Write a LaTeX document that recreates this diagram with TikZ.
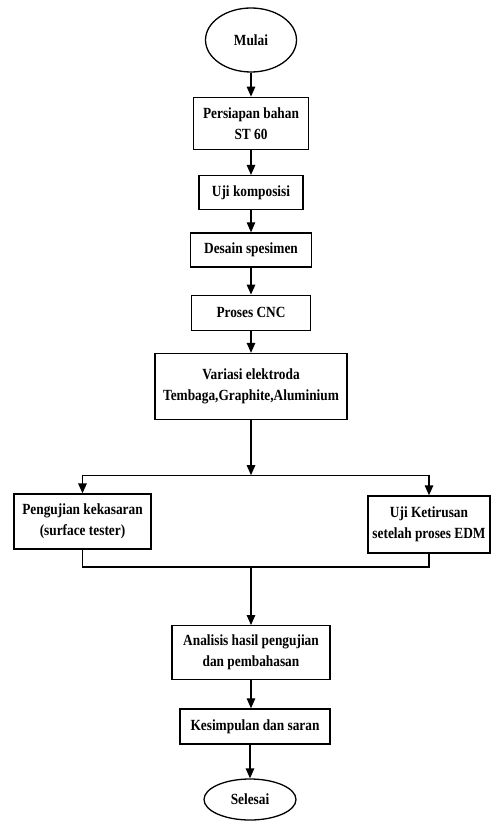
\documentclass[tikz,border=0pt]{standalone}
\usepackage{fontspec}
\setmainfont{Liberation Serif}[FakeStretch=0.86]
\usetikzlibrary{shapes.geometric, arrows.meta, positioning, calc}

\begin{document}
\begin{tikzpicture}[
    stepbox/.style={rectangle, draw=black, line width=1.3pt, align=center, inner sep=2pt, font=\bfseries\fontsize{15.5}{21}\selectfont},
    terminal/.style={ellipse, draw=black, line width=1.3pt, inner sep=0pt, font=\bfseries\fontsize{15.5}{21}\selectfont},
    arr/.style={line width=1.3pt, -{Triangle[length=10pt,width=8.5pt]}},
    link/.style={line width=1.3pt}
  ]
    \useasboundingbox (0,0) rectangle (491pt,-821pt);

    % --- Main column ---
    \node[terminal, minimum width=91pt, minimum height=64pt] (mulai) at (251pt,-40pt) {Mulai};
    \node[stepbox, minimum width=115pt, minimum height=52pt, below=24pt of mulai] (bahan) {Persiapan bahan\\ST 60};
    \node[stepbox, minimum width=104pt, minimum height=34pt, below=25pt of bahan] (komposisi) {Uji komposisi};
    \node[stepbox, minimum width=121pt, minimum height=34pt, below=22pt of komposisi] (desain) {Desain spesimen};
    \node[stepbox, minimum width=119pt, minimum height=35pt, below=27pt of desain] (cnc) {Proses CNC};
    \node[stepbox, minimum width=192pt, minimum height=66pt, below=22pt of cnc] (variasi) {Variasi elektroda\\Tembaga,Graphite,Aluminium};
    \coordinate[below=55pt of variasi.south] (split);

    % --- Branches ---
    \node[stepbox, minimum width=137pt, minimum height=55pt] (kasar) at (82.5pt,-521.5pt) {Pengujian kekasaran\\(surface tester)};
    \node[stepbox, minimum width=122pt, minimum height=57pt, inner sep=0pt] (tirus) at (429pt,-524.5pt) {Uji Ketirusan\\setelah proses EDM};
    \coordinate (join) at (251pt,-567pt);

    % --- Closing ---
    \node[stepbox, minimum width=158pt, minimum height=54pt, below=58pt of join] (analisis) {Analisis hasil pengujian\\dan pembahasan};
    \node[stepbox, minimum width=150pt, minimum height=35pt, below left=28pt and 0pt of analisis.south east] (kesimpulan) {Kesimpulan dan saran};
    \node[terminal, minimum width=92pt, minimum height=41pt] (selesai) at (250pt,-799.5pt) {Selesai};

    % --- Arrows ---
    \draw[arr] (mulai) -- (bahan);
    \draw[arr] (bahan) -- (komposisi);
    \draw[arr] (komposisi) -- (desain);
    \draw[arr] (desain) -- (cnc);
    \draw[arr] (cnc) -- (variasi);
    \draw[arr] (variasi) -- (split);
    \draw[link] (kasar.north |- split) -- (tirus.north |- split);
    \draw[arr] (kasar.north |- split) -- (kasar);
    \draw[arr] (tirus.north |- split) -- (tirus);
    \draw[link] (kasar) |- (join) -| (tirus);
    \draw[arr] (join) -- (analisis);
    \draw[arr] (analisis.south) -- (analisis.south |- kesimpulan.north);
    \draw[arr] (kesimpulan.south -| selesai) -- (selesai);

\end{tikzpicture}
\end{document}
